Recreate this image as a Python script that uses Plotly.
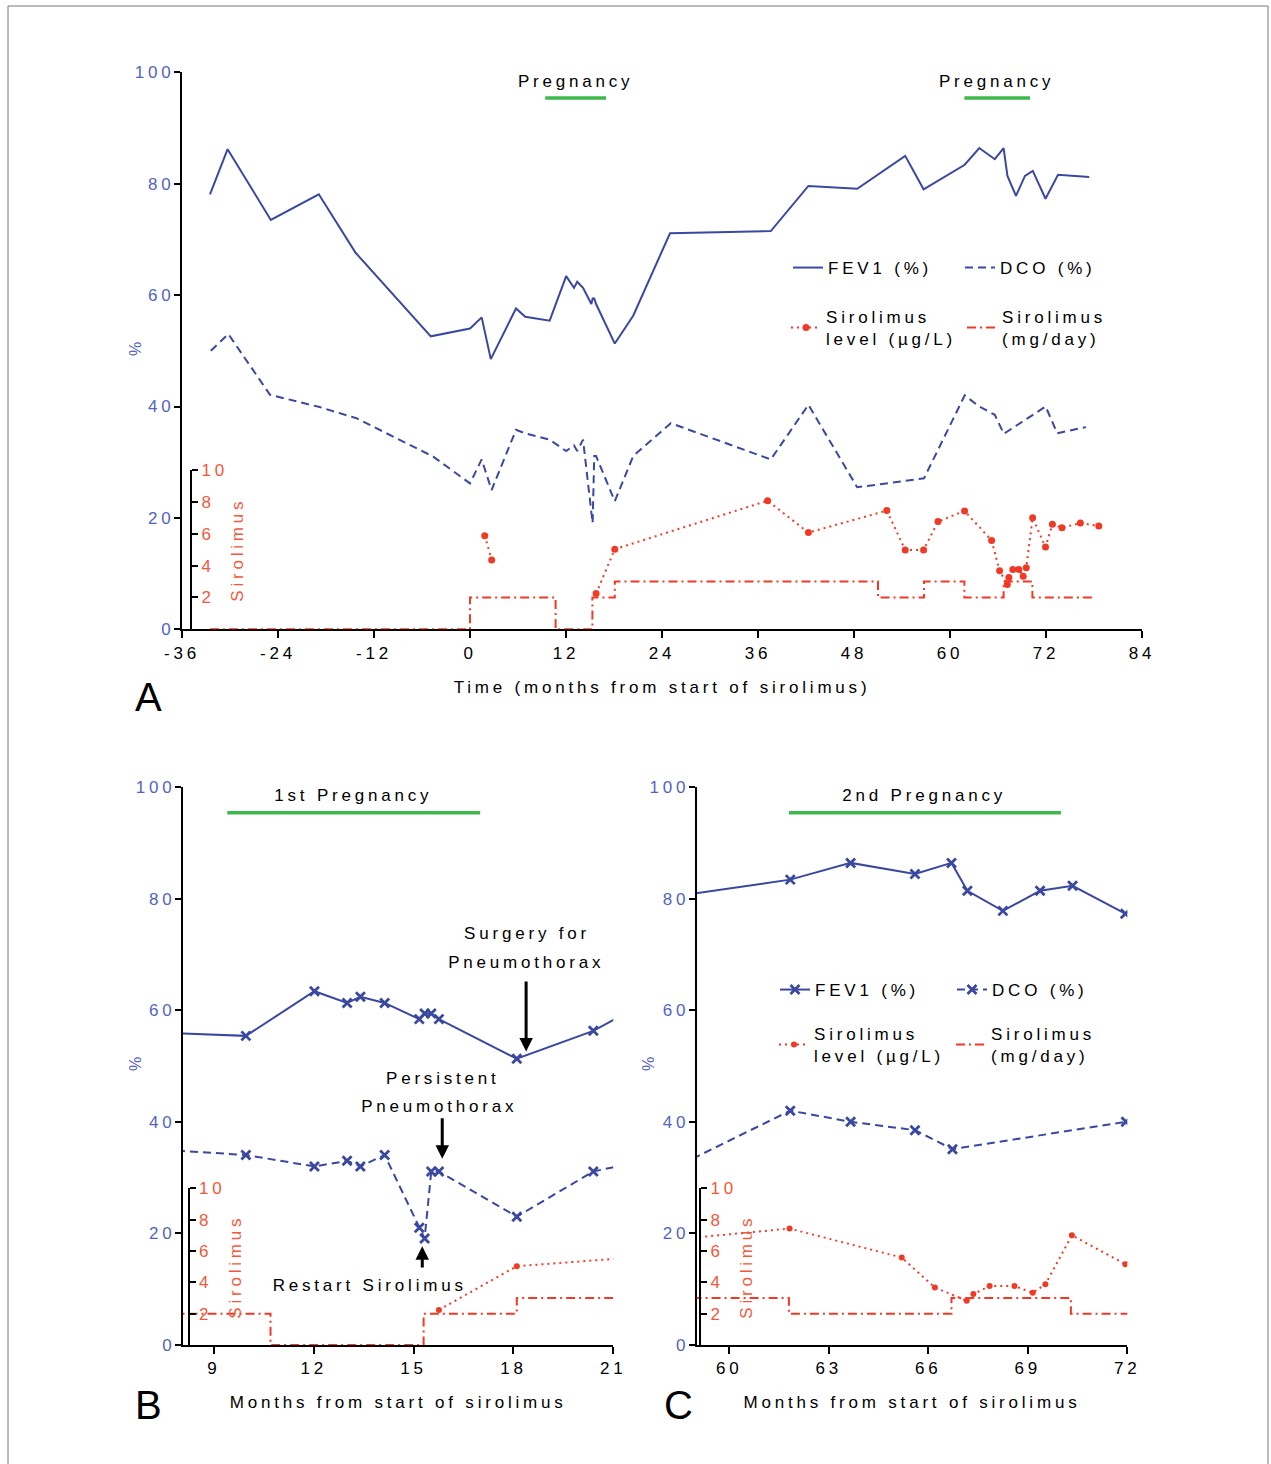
import plotly.graph_objects as go

# ---------------- data (months from start of sirolimus) ----------------
fev1_month = [-32.5, -30.3, -24.9, -18.9, -14.3, -4.9, 0.0, 1.46, 2.6, 5.75, 6.9, 9.96,
              12.02, 13.0, 13.4, 14.13, 15.17, 15.33, 15.53, 15.76, 18.1, 20.4, 25.0,
              37.6, 42.3, 48.4, 54.4, 56.7, 61.84, 63.66, 65.6, 66.7, 67.18, 68.25,
              69.37, 70.35, 71.94, 73.5, 77.4]
fev1_pct = [78.1, 86.2, 73.5, 78.1, 67.6, 52.6, 54.0, 56.0, 48.5, 57.6, 56.1, 55.4,
            63.4, 61.3, 62.4, 61.3, 58.4, 59.4, 59.4, 58.4, 51.3, 56.3, 71.1,
            71.5, 79.6, 79.1, 85.0, 79.0, 83.4, 86.4, 84.4, 86.4, 81.4, 77.8,
            81.4, 82.3, 77.3, 81.6, 81.2]

dco_month = [-32.4, -30.2, -25.0, -18.8, -14.2, -4.6, 0.0, 1.46, 2.7, 5.75, 6.9, 9.96,
             12.02, 13.0, 13.4, 14.13, 15.17, 15.33, 15.53, 15.76, 18.1, 20.4, 25.1,
             37.6, 42.3, 48.4, 56.75, 61.84, 63.66, 65.6, 66.73, 71.96, 73.4, 77.0]
dco_pct = [50.0, 53.0, 42.1, 39.9, 37.9, 31.0, 26.2, 30.5, 25.0, 35.8, 35.2, 34.05,
           32.0, 33.0, 32.0, 34.05, 21.0, 19.1, 31.1, 31.1, 23.0, 31.1, 37.0,
           30.5, 40.3, 25.5, 27.1, 42.0, 40.0, 38.5, 35.1, 40.0, 35.2, 36.3]

sir_level_month = [1.84, 2.71, None, 15.76, 18.1, 37.2, 42.3, 52.1, 54.4, 56.7, 58.5,
                   61.82, 65.2, 66.2, 67.16, 67.36, 67.85, 68.6, 69.15, 69.53, 70.33,
                   71.94, 72.8, 74.0, 76.3, 78.6]
sir_level = [5.88, 4.35, None, 2.24, 5.03, 8.07, 6.07, 7.45, 4.98, 4.98, 6.76,
             7.43, 5.58, 3.67, 2.82, 3.25, 3.76, 3.76, 3.33, 3.87, 7.0,
             5.16, 6.59, 6.38, 6.67, 6.48]

sir_dose_month = [-32.5, 0.0, 10.7, 15.3, 18.1, 51.0, 56.75, 61.8, 66.7, 70.3, 78.0]
sir_dose = [0, 2, 0, 2, 3, 2, 3, 2, 3, 2, 2]

preg_start = [9.4, 61.8]
preg_end = [17.0, 70.0]
preg_label_A = ["Pregnancy", "Pregnancy"]
preg_label_BC = ["1st Pregnancy", "2nd Pregnancy"]

x_ticks_A = [-36, -24, -12, 0, 12, 24, 36, 48, 60, 72, 84]
x_ticks_B = [9, 12, 15, 18, 21]
x_ticks_C = [60, 63, 66, 69, 72]
y_ticks = [0, 20, 40, 60, 80, 100]
sir_ticks = [2, 4, 6, 8, 10]

# ---------------- style ----------------
W, H = 1271, 1464
FONT = "Liberation Sans, Arial, sans-serif"
BLUE = "rgb(58,72,160)"
BLUE_TXT = "rgb(84,100,190)"
RED = "rgb(240,58,38)"
RED_TXT = "rgb(243,88,58)"
GREEN = "rgb(62,186,76)"
PREG_Y = 95.4
PREG_TXT_Y = 98.4


def pxx(x):
    return x / W


def pyy(y):
    return 1 - y / H


fig = go.Figure()

panels = [
    dict(xa="x", ya="y", ya2="y2", marks=False,
         legends=["legend", "legend2", "legend3", "legend4"]),
    dict(xa="x2", ya="y3", ya2="y4", marks=True, legends=None),
    dict(xa="x3", ya="y5", ya2="y6", marks=True,
         legends=["legend5", "legend6", "legend7", "legend8"]),
]

names = ["FEV1 (%)", "DCO (%)", "Sirolimus<br>level (µg/L)", "Sirolimus<br>(mg/day)"]

for p in panels:
    show = p["legends"] is not None
    lg = p["legends"] if show else ["legend"] * 4
    xmark = dict(symbol="x-thin", size=9, line=dict(width=2.8, color=BLUE), color=BLUE)
    fig.add_trace(go.Scatter(
        x=fev1_month, y=fev1_pct, xaxis=p["xa"], yaxis=p["ya"],
        mode="lines+markers" if p["marks"] else "lines",
        line=dict(color=BLUE, width=2), marker=xmark,
        name=names[0], showlegend=show, legend=lg[0]))
    fig.add_trace(go.Scatter(
        x=dco_month, y=dco_pct, xaxis=p["xa"], yaxis=p["ya"],
        mode="lines+markers" if p["marks"] else "lines",
        line=dict(color=BLUE, width=2, dash="8px,5px"), marker=xmark,
        name=names[1], showlegend=show, legend=lg[1]))
    fig.add_trace(go.Scatter(
        x=sir_level_month, y=sir_level, xaxis=p["xa"], yaxis=p["ya2"],
        mode="lines+markers", connectgaps=False,
        line=dict(color=RED, width=2, dash="2px,4px"),
        marker=dict(size=7 if not p["marks"] else 6, color=RED),
        name=names[2], showlegend=show, legend=lg[2]))
    fig.add_trace(go.Scatter(
        x=sir_dose_month, y=sir_dose, xaxis=p["xa"], yaxis=p["ya2"],
        mode="lines", line_shape="hv",
        line=dict(color=RED, width=2, dash="9px,4px,2px,4px"),
        name=names[3], showlegend=show, legend=lg[3]))
    for s, e in zip(preg_start, preg_end):
        fig.add_trace(go.Scatter(
            x=[s, e], y=[PREG_Y, PREG_Y], xaxis=p["xa"], yaxis=p["ya"],
            mode="lines", line=dict(color=GREEN, width=3.5),
            showlegend=False, hoverinfo="skip"))

tickfont = dict(family=FONT, size=17, color="black")
common_x = dict(showline=True, linewidth=2, linecolor="black", ticks="outside",
                ticklen=7, tickwidth=2, tickcolor="black", showgrid=False,
                zeroline=False, tickfont=tickfont, automargin=False)
common_y = dict(showline=True, linewidth=2, linecolor="black", ticks="outside",
                ticklen=6, tickwidth=2, tickcolor="black", showgrid=False,
                zeroline=False, range=[0, 100], tickvals=y_ticks,
                ticklabelstandoff=-4,
                tickfont=dict(family=FONT, size=17, color=BLUE_TXT), automargin=False)
common_s = dict(showline=True, linewidth=2, linecolor="black", ticks="outside",
                ticklen=6, tickwidth=2, tickcolor="black", showgrid=False,
                zeroline=False, range=[0, 10], tickvals=sir_ticks, side="right",
                anchor="free", tickfont=dict(family=FONT, size=17, color=RED_TXT),
                title=dict(text="Sirolimus", standoff=11,
                           font=dict(family=FONT, size=17, color=RED_TXT)),
                automargin=False)

xt_title = dict(font=dict(family=FONT, size=17, color="black"), standoff=19)


def lab(vals):
    return [str(v) for v in vals]


fig.update_layout(
    width=W, height=H,
    margin=dict(l=0, r=0, t=0, b=0),
    paper_bgcolor="white", plot_bgcolor="rgba(0,0,0,0)",
    font=dict(family=FONT, size=17, color="black"),
    xaxis=dict(common_x, domain=[pxx(182), pxx(1142)], range=[-36, 84],
               tickvals=x_ticks_A, ticktext=lab(x_ticks_A), anchor="y",
               title=dict(xt_title, text="Time (months from start of sirolimus)")),
    yaxis=dict(common_y, domain=[pyy(629.3), pyy(72.3)], anchor="x"),
    yaxis2=dict(common_s, domain=[pyy(629.3), pyy(470)], position=pxx(191)),
    xaxis2=dict(common_x, domain=[pxx(183), pxx(613.3)], range=[8.07, 21],
                tickvals=x_ticks_B, ticktext=lab(x_ticks_B), anchor="y3",
                title=dict(xt_title, text="Months from start of sirolimus")),
    yaxis3=dict(common_y, domain=[pyy(1345), pyy(787)], anchor="x2"),
    yaxis4=dict(common_s, domain=[pyy(1345), pyy(1188.3)], position=pxx(188.5)),
    xaxis3=dict(common_x, domain=[pxx(696.7), pxx(1127.3)], range=[59.02, 72],
                tickvals=x_ticks_C, ticktext=lab(x_ticks_C), anchor="y5",
                title=dict(xt_title, text="Months from start of sirolimus")),
    yaxis5=dict(common_y, domain=[pyy(1345), pyy(787)], anchor="x3"),
    yaxis6=dict(common_s, domain=[pyy(1345), pyy(1188.3)], position=pxx(700)),
)

# legends (one entry each, placed like the 2x2 grid of the original)
leg_font = dict(family=FONT, size=17, color="black")
leg_pos = {
    "legend": (828, 268), "legend2": (1000, 268),
    "legend3": (826, 328), "legend4": (1002, 328),
    "legend5": (815, 990), "legend6": (992, 990),
    "legend7": (814, 1045), "legend8": (991, 1045),
}
for key, (tx, ty) in leg_pos.items():
    fig.update_layout({key: dict(x=pxx(tx - 40), y=pyy(ty), xanchor="left",
                                 yanchor="middle", font=leg_font, bgcolor="rgba(0,0,0,0)",
                                 itemwidth=30, tracegroupgap=0)})

ann = []
txt_font = dict(family=FONT, size=17, color="black")
# pregnancy labels
for xa, ya, s, e, t in [("x", "y", preg_start[0], preg_end[0], preg_label_A[0]),
                        ("x", "y", preg_start[1], preg_end[1], preg_label_A[1]),
                        ("x2", "y3", preg_start[0], preg_end[0], preg_label_BC[0]),
                        ("x3", "y5", preg_start[1], preg_end[1], preg_label_BC[1])]:
    ann.append(dict(x=(s + e) / 2, y=PREG_TXT_Y, xref=xa, yref=ya, text=t,
                    showarrow=False, font=txt_font, xanchor="center", yanchor="middle"))

# "%" axis labels
for (x, y) in [(135, 347), (135, 1062), (648, 1062)]:
    ann.append(dict(x=pxx(x), y=pyy(y), xref="paper", yref="paper", text="%",
                    textangle=-90, showarrow=False, xanchor="center", yanchor="middle",
                    font=dict(family=FONT, size=16, color=BLUE_TXT)))

# panel letters
for (x, y, t) in [(150, 697, "A"), (150, 1405, "B"), (680, 1405, "C")]:
    ann.append(dict(x=pxx(x), y=pyy(y), xref="paper", yref="paper", text=t,
                    showarrow=False, xanchor="center", yanchor="middle",
                    font=dict(family=FONT, size=40, color="black")))

# panel B event notes
for (x, y, t) in [(18.4, 73.7, "Surgery for"), (18.4, 68.6, "Pneumothorax"),
                  (15.88, 47.8, "Persistent"), (15.79, 42.8, "Pneumothorax"),
                  (13.66, 10.6, "Restart Sirolimus")]:
    ann.append(dict(x=x, y=y, xref="x2", yref="y3", text=t, showarrow=False,
                    font=txt_font, xanchor="center", yanchor="middle"))
for (x, y, ay) in [(18.38, 52.6, 65.4), (15.86, 33.4, 40.9), (15.26, 17.7, 13.6)]:
    ann.append(dict(x=x, y=y, ax=x, ay=ay, xref="x2", yref="y3", axref="x2",
                    ayref="y3", text="", showarrow=True, arrowhead=2,
                    arrowsize=0.9, arrowwidth=3, arrowcolor="black"))

fig.update_layout(annotations=ann)

# outer frame
fig.add_shape(type="rect", xref="paper", yref="paper", x0=pxx(8), x1=pxx(1268),
              y0=-0.02, y1=pyy(6), line=dict(color="rgb(120,120,120)", width=1))

post = ("document.body.style.margin='0';"
        "var gd=document.getElementById('{plot_id}');"
        "gd.querySelectorAll('text').forEach(function(t){t.style.letterSpacing='3.8px';});"
        "gd.querySelectorAll('.infolayer [clip-path]').forEach(function(e){"
        "e.removeAttribute('clip-path');});")

fig.write_html("out.html", post_script=post, config={"displayModeBar": False})
